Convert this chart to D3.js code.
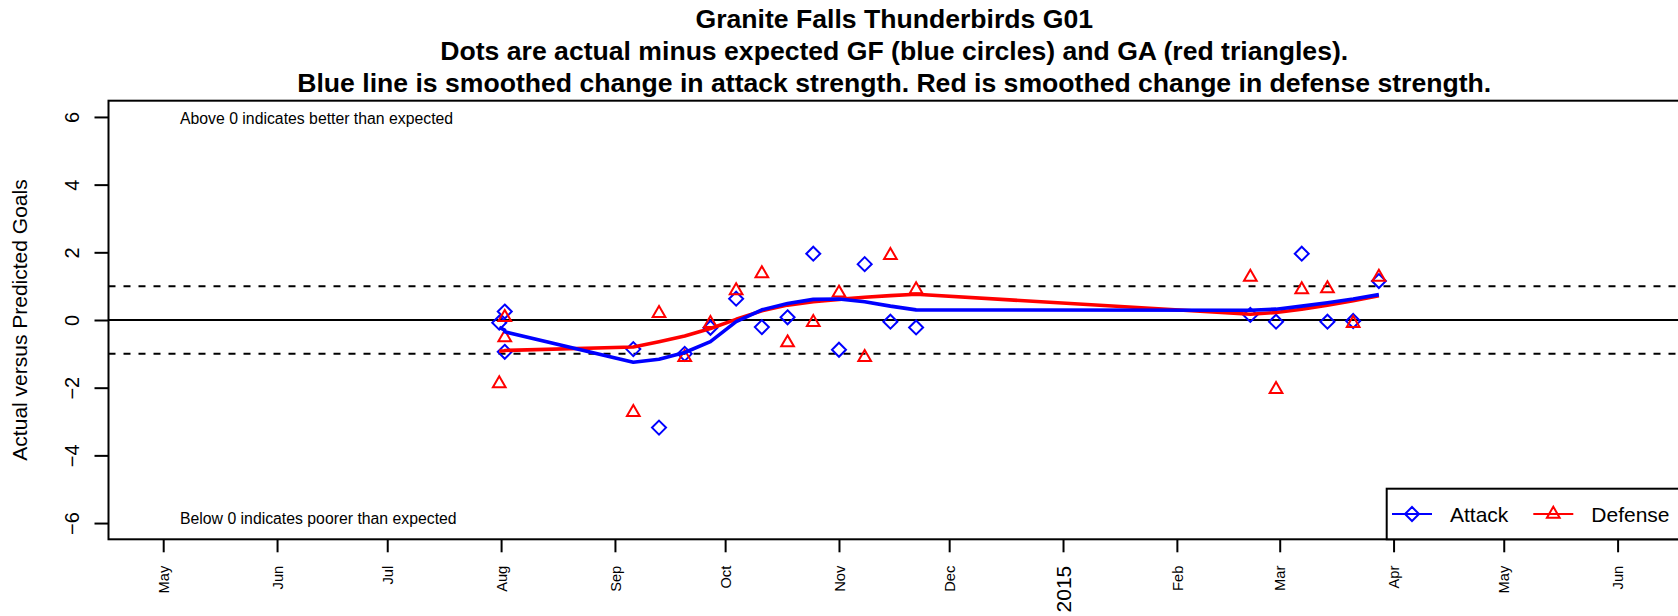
<!DOCTYPE html>
<html>
<head>
<meta charset="utf-8">
<script src="https://cdn.jsdelivr.net/npm/d3@7"></script>
<style>
  body { margin: 0; background: #fff; }
  svg { display: block; font-family: "Liberation Sans", Arial, sans-serif; }
</style>
</head>
<body>
<svg id="chart" width="1678" height="616"></svg>
<script>
// game dates (one per match)
const gameDates = ["2014-07-31 12:00", "2014-08-02", "2014-08-02", "2014-09-06", "2014-09-13",
  "2014-09-20", "2014-09-27", "2014-10-04", "2014-10-11", "2014-10-18", "2014-10-25",
  "2014-11-01", "2014-11-08", "2014-11-15", "2014-11-22", "2015-02-21", "2015-02-28",
  "2015-03-07", "2015-03-14", "2015-03-21", "2015-03-28"];

// actual minus expected goals for (blue diamonds)
const attackDiff = [-0.08, 0.25, -0.94, -0.86, -3.18, -1.0, -0.23, 0.63, -0.21, 0.08, 1.96,
  -0.88, 1.65, -0.05, -0.22, 0.15, -0.05, 1.96, -0.05, -0.03, 1.15];
// actual minus expected goals against (red triangles)
const defenseDiff = [-1.88, 0.08, -0.52, -2.73, 0.2, -1.1, -0.1, 0.87, 1.37, -0.67, -0.07,
  0.8, -1.1, 1.91, 0.9, 1.27, -2.05, 0.9, 0.93, -0.1, 1.27];

// smoothed change in strength
const attackSmooth = [-0.22, -0.30, -0.35, -1.25, -1.16, -0.96, -0.64, -0.05, 0.30, 0.49, 0.61,
  0.62, 0.54, 0.41, 0.30, 0.29, 0.32, 0.41, 0.51, 0.62, 0.75];
const defenseSmooth = [-0.92, -0.91, -0.90, -0.80, -0.64, -0.47, -0.25, 0.02, 0.27, 0.44, 0.54,
  0.61, 0.67, 0.72, 0.76, 0.17, 0.22, 0.32, 0.44, 0.57, 0.72];

const yTicks = [-6, -4, -2, 0, 2, 4, 6];
const refLines = [-1, 0, 1];

const titleLines = [
  "Granite Falls Thunderbirds G01",
  "Dots are actual minus expected GF (blue circles) and GA (red triangles).",
  "Blue line is smoothed change in attack strength. Red is smoothed change in defense strength."
];

const parseTime = s => d3.timeParse("%Y-%m-%d %H:%M")(s) || d3.timeParse("%Y-%m-%d")(s);
const dates = gameDates.map(parseTime);

const svg = d3.select("#chart");

// plot region
const plotLeft = 108.5, plotRight = 1680, plotTop = 100.7, plotBottom = 539.3;

const x = d3.scaleTime()
  .domain([new Date(2014, 4, 1), new Date(2015, 5, 1)])
  .range([163.2, 1617.6]);

const y = d3.scaleLinear()
  .domain([-6.48, 6.48])
  .range([plotBottom, plotTop]);

// titles
svg.selectAll(".title")
  .data(titleLines)
  .enter().append("text")
  .attr("class", "title")
  .attr("x", (plotLeft + plotRight) / 2)
  .attr("y", (d, i) => 28 + i * 32)
  .attr("text-anchor", "middle")
  .style("font-weight", "bold")
  .style("font-size", "26.6px")
  .text(d => d);

// reference lines
svg.selectAll(".ref")
  .data(refLines)
  .enter().append("line")
  .attr("class", "ref")
  .attr("x1", plotLeft).attr("x2", plotRight)
  .attr("y1", d => y(d)).attr("y2", d => y(d))
  .style("stroke", "#000")
  .style("stroke-width", 2)
  .style("stroke-dasharray", d => d === 0 ? null : "7,8");

// annotations
svg.append("text")
  .attr("x", 180).attr("y", y(5.8))
  .style("font-size", "15.8px")
  .text("Above 0 indicates better than expected");
svg.append("text")
  .attr("x", 180).attr("y", y(-6.04))
  .style("font-size", "15.8px")
  .text("Below 0 indicates poorer than expected");

const games = dates.map((d, i) => ({
  date: d, att: attackDiff[i], def: defenseDiff[i],
  attS: attackSmooth[i], defS: defenseSmooth[i]
}));

const diamond = "M0,-7L7,0L0,7L-7,0Z";
const triangle = "M0,-7.3L6.35,3.66L-6.35,3.66Z";

svg.append("g").selectAll("path")
  .data(games)
  .enter().append("path")
  .attr("d", diamond)
  .attr("transform", d => `translate(${x(d.date)},${y(d.att)})`)
  .style("fill", "none")
  .style("stroke", "#0000ff")
  .style("stroke-width", 2);

svg.append("g").selectAll("path")
  .data(games)
  .enter().append("path")
  .attr("d", triangle)
  .attr("transform", d => `translate(${x(d.date)},${y(d.def)})`)
  .style("fill", "none")
  .style("stroke", "#ff0000")
  .style("stroke-width", 2);

// smoothed lines
svg.append("path")
  .datum(games)
  .attr("d", d3.line().x(d => x(d.date)).y(d => y(d.defS)))
  .style("fill", "none")
  .style("stroke", "#ff0000")
  .style("stroke-width", 3.6)
  .style("stroke-linejoin", "round");

svg.append("path")
  .datum(games)
  .attr("d", d3.line().x(d => x(d.date)).y(d => y(d.attS)))
  .style("fill", "none")
  .style("stroke", "#0000ff")
  .style("stroke-width", 3.6)
  .style("stroke-linejoin", "round");

// axes
const months = d3.timeMonth.range(new Date(2014, 4, 1), new Date(2015, 5, 2));
const xAxis = svg.append("g")
  .attr("transform", `translate(0,${plotBottom})`)
  .call(d3.axisBottom(x)
    .tickValues(months)
    .tickSize(13)
    .tickFormat(d => d.getMonth() === 0 ? d3.timeFormat("%Y")(d) : d3.timeFormat("%b")(d)));
xAxis.select(".domain").remove();
xAxis.selectAll(".tick line").style("stroke", "#000").style("stroke-width", 2);
xAxis.selectAll(".tick text")
  .attr("x", 0).attr("y", 0)
  .attr("dy", "0.35em")
  .attr("transform", "translate(0,26.4) rotate(-90)")
  .attr("text-anchor", "end")
  .style("font-family", "inherit")
  .style("font-size", d => d.getMonth() === 0 ? "21px" : "14.7px")
  .style("fill", "#000");

const yAxis = svg.append("g")
  .attr("transform", `translate(${plotLeft},0)`)
  .call(d3.axisLeft(y).tickValues(yTicks).tickSize(14));
yAxis.select(".domain").remove();
yAxis.selectAll(".tick line").style("stroke", "#000").style("stroke-width", 2);
yAxis.selectAll(".tick text")
  .attr("x", 0).attr("dy", 0)
  .attr("transform", "translate(-29.5,0) rotate(-90)")
  .attr("text-anchor", "middle")
  .style("font-family", "inherit")
  .style("font-size", "20px")
  .style("fill", "#000");

svg.append("text")
  .attr("transform", "translate(26.7,320) rotate(-90)")
  .attr("text-anchor", "middle")
  .style("font-size", "21px")
  .text("Actual versus Predicted Goals");

// plot box
svg.append("rect")
  .attr("x", plotLeft).attr("y", plotTop)
  .attr("width", plotRight - plotLeft).attr("height", plotBottom - plotTop)
  .style("fill", "none")
  .style("stroke", "#000")
  .style("stroke-width", 2);

// legend (bottom right)
const legend = svg.append("g");
legend.append("rect")
  .attr("x", 1386.7).attr("y", 488.7)
  .attr("width", 320).attr("height", plotBottom - 488.7)
  .style("fill", "#fff")
  .style("stroke", "#000")
  .style("stroke-width", 2);

const legendItems = [
  { label: "Attack", color: "#0000ff", shape: diamond, x0: 1392 },
  { label: "Defense", color: "#ff0000", shape: triangle, x0: 1533.3 }
];
const ly = 514;
legendItems.forEach(it => {
  legend.append("line")
    .attr("x1", it.x0).attr("x2", it.x0 + 40)
    .attr("y1", ly).attr("y2", ly)
    .style("stroke", it.color).style("stroke-width", 2);
  legend.append("path")
    .attr("d", it.shape)
    .attr("transform", `translate(${it.x0 + 20},${ly})`)
    .style("fill", "none").style("stroke", it.color).style("stroke-width", 2);
  legend.append("text")
    .attr("x", it.x0 + 58).attr("y", ly + 7.5)
    .style("font-size", "21px")
    .text(it.label);
});
</script>
</body>
</html>
